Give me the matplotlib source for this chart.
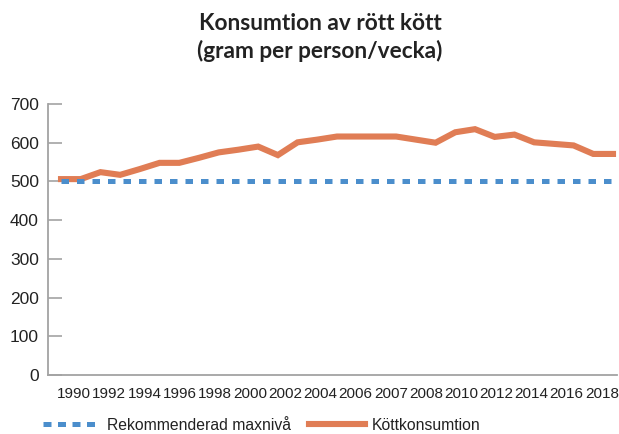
import matplotlib
matplotlib.use("Agg")
import matplotlib.pyplot as plt
from matplotlib.lines import Line2D
import numpy as np

years = list(range(1990, 2019))
consumption = [506, 506, 524, 517, 532, 548, 548, 561, 575, 582, 590, 568, 601, 608,
               616, 616, 616, 616, 608, 600, 627, 635, 615, 621, 601, 597, 593, 571, 571]
max_level = [500] * len(years)
tick_labels = ["1990", "1992", "1994", "1996", "1998", "2000", "2002", "2004", "2006",
               "2007", "2008", "2010", "2012", "2014", "2016", "2018"]
yticks = [0, 100, 200, 300, 400, 500, 600, 700]

orange = "#E07D55"
blue = "#4B8ECC"
grey = "#A3A3A3"
txt = "#222222"

fig = plt.figure(figsize=(6.19, 4.34), dpi=100)
ax = fig.add_axes([48/619, 59/434, 569/619, 271/434])

ax.plot(years, consumption, color=orange, lw=4.4, solid_joinstyle="miter", zorder=2)
ax.plot(years, max_level, color=blue, lw=3.6, dashes=(1.5, 1.6), dash_capstyle="butt", zorder=3)

ax.set_ylim(0, 700)
ax.set_xlim(1990 - 13/19.68, 2018 + 4/19.68)
ax.set_yticks(yticks)
ax.set_yticklabels([str(v) for v in yticks], fontsize=12.5, color=txt, family="Liberation Sans")
ax.tick_params(axis="y", direction="in", length=10, width=1.2, color=grey, pad=6.5)
pos = np.linspace(1990 + 13/19.68, 1990 + 540/19.68, len(tick_labels))
ax.set_xticks(pos)
ax.set_xticklabels(tick_labels, fontsize=11, color=txt, family="Liberation Sans")
ax.tick_params(axis="x", length=0, pad=9)

for s in ["top", "right"]:
    ax.spines[s].set_visible(False)
for s in ["left", "bottom"]:
    ax.spines[s].set_color(grey)
    ax.spines[s].set_linewidth(1.3)

fig.text(320/619, 1 - 23/434, "Konsumtion av rött kött", ha="center", va="center",
         fontsize=16.3, fontweight="bold", family="Lato", color=txt)
fig.text(320/619, 1 - 51/434, "(gram per person/vecka)", ha="center", va="center",
         fontsize=16.3, fontweight="bold", family="Lato", color=txt)

handles = [Line2D([], [], color=blue, lw=3.6, dashes=(1.6, 1.3), dash_capstyle="butt"),
           Line2D([], [], color=orange, lw=4.4)]
labels = ["Rekommenderad maxnivå", "Köttkonsumtion"]
leg = fig.legend(handles, labels, loc="center", bbox_to_anchor=(262/619, 1 - 425/434),
                 ncol=2, frameon=False, handlelength=3.6, handletextpad=0.45,
                 columnspacing=1.15, prop={"family": "Liberation Sans", "size": 11.3})
for t in leg.get_texts():
    t.set_color(txt)

fig.savefig("out.png", dpi=100)
